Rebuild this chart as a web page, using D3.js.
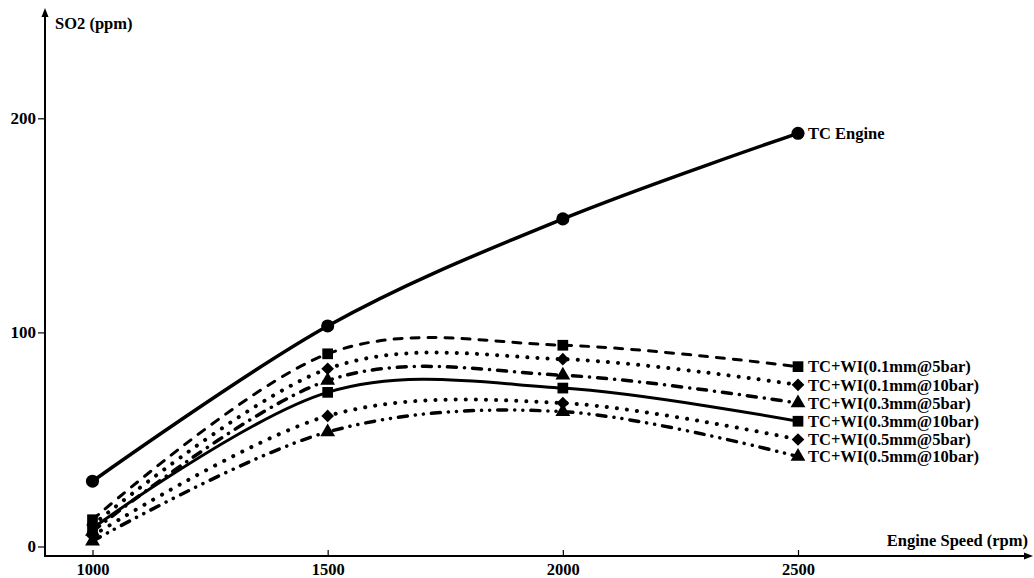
<!DOCTYPE html>
<html>
<head>
<meta charset="utf-8">
<script src="https://cdn.jsdelivr.net/npm/d3@7"></script>
<style>
  body { margin: 0; background: #fff; }
  text { font-family: "Liberation Serif", "Times New Roman", serif; font-weight: bold; fill: #000; }
</style>
</head>
<body>
<div id="chart"></div>
<script>
// engine speed (rpm)
const speeds = [1000, 1500, 2000, 2500];
const xTicks = [1000, 1500, 2000, 2500];
const yTicks = [0, 100, 200];

// SO2 (ppm)
const tcEngine   = [30.5, 103, 153, 193];
const wi01at5    = [12.5, 90, 94, 84];
const wi01at10   = [10, 83, 87.5, 75.5];
const wi03at5    = [7, 77.5, 80, 67];
const wi03at10   = [8.5, 72, 74, 58.5];
const wi05at5    = [5, 61, 67, 50];
const wi05at10   = [2.5, 53.5, 63, 42];

const names = ["TC Engine", "TC+WI(0.1mm@5bar)", "TC+WI(0.1mm@10bar)", "TC+WI(0.3mm@5bar)",
               "TC+WI(0.3mm@10bar)", "TC+WI(0.5mm@5bar)", "TC+WI(0.5mm@10bar)"];
const values = [tcEngine, wi01at5, wi01at10, wi03at5, wi03at10, wi05at5, wi05at10];

// line / marker style per series
const styles = [
  {dash: null, width: 3.5, cap: "round", sym: "circle"},
  {dash: "8 9", width: 3, cap: "round", sym: "square"},
  {dash: "0.1 10", width: 4, cap: "round", sym: "diamond"},
  {dash: "9 8 0.1 8", width: 3.5, cap: "round", sym: "triangle"},
  {dash: null, width: 3, cap: "round", sym: "square"},
  {dash: "0.1 10", width: 4, cap: "round", sym: "diamond"},
  {dash: "9 8 0.1 8 0.1 8", width: 3.5, cap: "round", sym: "triangle"}
];

const W = 1034, H = 578;
const svg = d3.select("#chart").append("svg")
  .attr("width", W).attr("height", H);

const x = d3.scaleLinear().domain([1000, 2500]).range([92.5, 798]);
const y = d3.scaleLinear().domain([0, 200]).range([546.5, 118.3]);

const axisX0 = 45, axisY0 = 556;

// axes lines with arrows
svg.append("line").attr("x1", axisX0).attr("y1", axisY0 + 1).attr("x2", axisX0).attr("y2", 14)
  .attr("stroke", "#000").attr("stroke-width", 2);
svg.append("path").attr("d", `M${axisX0 - 3.5},17 L${axisX0},8 L${axisX0 + 3.5},17 Z`).attr("fill", "#000");

svg.append("line").attr("x1", axisX0 - 1).attr("y1", axisY0).attr("x2", 1026).attr("y2", axisY0)
  .attr("stroke", "#000").attr("stroke-width", 2);
svg.append("path").attr("d", `M1024,${axisY0 - 3.5} L1033,${axisY0} L1024,${axisY0 + 3.5} Z`).attr("fill", "#000");

// y ticks
const yAxis = d3.axisLeft(y).tickValues(yTicks).tickSize(7).tickPadding(2);
const gy = svg.append("g").attr("transform", `translate(${axisX0},0)`).call(yAxis);
gy.select(".domain").remove();
gy.selectAll(".tick line").attr("stroke-width", 1.2);
gy.selectAll(".tick text").attr("font-size", 17).attr("font-family", "Liberation Serif").attr("font-weight", "bold");

// x ticks (pointing up from the axis)
const xAxis = d3.axisTop(x).tickValues(xTicks).tickSize(6).tickFormat(d3.format("d"));
const gx = svg.append("g").attr("transform", `translate(0,${axisY0})`).call(xAxis);
gx.select(".domain").remove();
gx.selectAll(".tick line").attr("stroke-width", 1.2);
gx.selectAll(".tick text").attr("font-size", 16.5).attr("font-family", "Liberation Serif").attr("font-weight", "bold")
  .attr("y", 18.5).attr("dy", 0);

// axis titles
svg.append("text").attr("x", 55).attr("y", 29).attr("font-size", 16.5).text("SO2 (ppm)");
svg.append("text").attr("x", 1028).attr("y", 546).attr("text-anchor", "end").attr("font-size", 16.5).text("Engine Speed (rpm)");

const line = d3.line()
  .x((d, i) => x(speeds[i]))
  .y(d => y(d))
  .curve(d3.curveCardinal.tension(0));

const symbolType = {circle: d3.symbolCircle, square: d3.symbolSquare, diamond: d3.symbolSquare, triangle: d3.symbolTriangle};
const symbolSize = {circle: 135, square: 115, diamond: 80, triangle: 95};

values.forEach((vals, k) => {
  const st = styles[k];
  svg.append("path")
    .attr("d", line(vals))
    .attr("fill", "none")
    .attr("stroke", "#000")
    .attr("stroke-width", st.width)
    .attr("stroke-linecap", st.cap)
    .attr("stroke-dasharray", st.dash);

  const sym = d3.symbol().type(symbolType[st.sym]).size(symbolSize[st.sym]);
  svg.selectAll(null).data(vals).enter().append("path")
    .attr("d", sym)
    .attr("fill", "#000")
    .attr("transform", (d, i) => `translate(${x(speeds[i])},${y(d)})` + (st.sym === "diamond" ? " rotate(45)" : ""));

  svg.append("text")
    .attr("x", x(speeds[speeds.length - 1]) + 10)
    .attr("y", y(vals[vals.length - 1]))
    .attr("dy", "0.35em")
    .attr("font-size", 16.5)
    .text(names[k]);
});
</script>
</body>
</html>
